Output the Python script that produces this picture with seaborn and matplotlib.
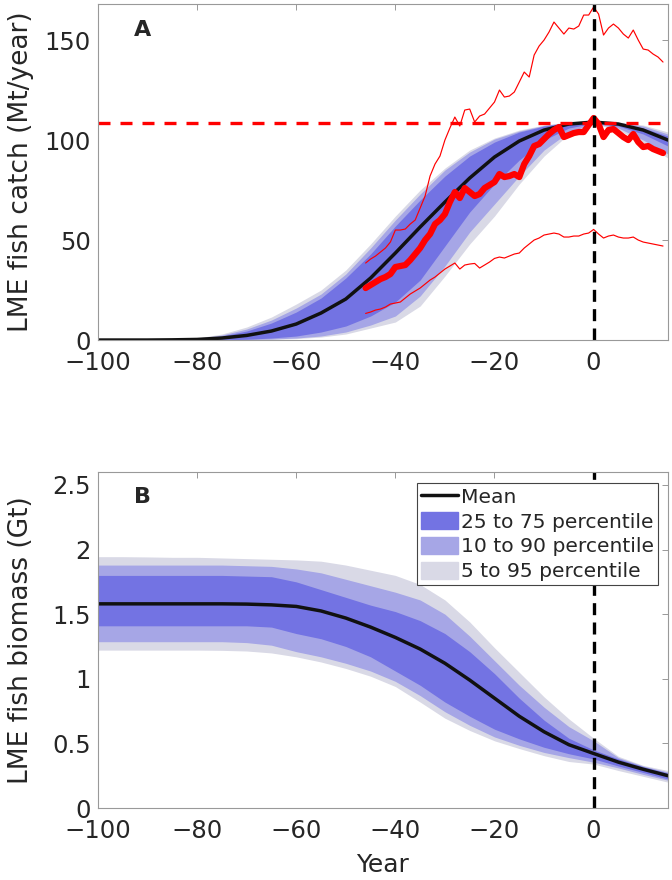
import numpy as np
import pandas as pd
import seaborn as sns
import matplotlib
matplotlib.use("Agg")
import matplotlib.pyplot as plt
from matplotlib.lines import Line2D
from matplotlib.patches import Patch

# model years (5-yr grid), relative to year of peak catch
years = [-100, -95, -90, -85, -80, -75, -70, -65, -60, -55, -50, -45,
         -40, -35, -30, -25, -20, -15, -10, -5, 0, 5, 10, 15]

# panel A: LME fish catch (Mt/year)
catch_mean = [0, 0, 0, 0.1, 0.3, 1, 2.3, 4.5, 8, 13.5, 20.5, 31,
              43.5, 56.5, 69, 81, 91.5, 99.5, 105, 108, 109, 108, 105, 100]
catch_p25 = [0, 0, 0, 0, 0, 0, 0.4, 1, 2, 4, 7, 12,
             19, 30, 47, 64, 78, 90, 100, 106, 108.5, 107, 103, 97]
catch_p75 = [0, 0, 0, 0, 0.6, 2, 4.5, 8.5, 14, 21, 31, 43,
             57, 70, 82, 92, 99, 104, 107, 108.7, 109, 108.5, 106, 102]
catch_p10 = [0, 0, 0, 0, 0, 0, 0.2, 0.5, 1, 2, 4, 7.5,
             12, 22, 37, 54, 68, 82, 95, 104, 108.3, 106, 100, 93]
catch_p90 = [0, 0, 0, 0, 0.8, 2.5, 5.5, 10, 16, 23, 33, 46,
             60, 73, 85, 94, 100.5, 104.5, 107.3, 108.8, 109, 108.8, 107, 103]
catch_p5 = [0, 0, 0, 0, 0, 0, 0, 0.3, 0.7, 1.5, 3, 6,
            9, 17, 32, 48, 62, 78, 92, 103, 108, 105, 98.5, 91]
catch_p95 = [0, 0, 0, 0, 1, 3, 6.5, 11.5, 18, 25, 35, 48,
             62, 75, 86, 95, 101, 105, 107.5, 109, 109.2, 109, 107.5, 104]

# observed catch (yearly)
obs_years = list(range(-46, 15))
obs_catch = [26, 27.5, 29, 30.5, 31.5, 33, 36.5, 37, 37.5, 40, 43, 46, 50, 53, 58, 60,
             63, 69, 74, 71, 76, 74, 72, 73, 76, 77.5, 79, 83, 81.5, 82, 83, 81.5,
             88, 92, 97, 98, 100.5, 103, 105, 106.5, 101.5, 102.5, 103.5, 104, 104, 107.5,
             111, 108, 101.5, 105, 105.5, 103.5, 101.5, 100, 103, 99, 96.5, 97, 95.5, 94.5, 93.5]
obs_high = [38.5, 40.5, 42, 44, 46, 49, 55, 55, 55.5, 58, 60, 66, 72, 82, 88, 92,
            100, 106, 111.5, 107, 115, 115.5, 109, 112, 113, 116, 119, 125, 121.5, 122, 124, 129,
            134, 131.5, 142.5, 147, 150, 154, 159, 156, 153, 156, 155.5, 157, 162.5, 162.5,
            166.5, 163, 152.5, 156, 158, 156, 153, 151, 155, 150, 145.5, 145, 143, 141.5, 139]
obs_low = [13.3, 14, 15, 15.5, 16.5, 18, 18.5, 19, 21, 23, 24.5, 26, 28, 30, 31.5, 33.5,
           35.5, 37, 38.5, 35.5, 37.5, 38, 38.3, 36, 37.5, 39, 40.8, 41.5, 41, 42, 43, 43.5,
           46, 48, 50, 51, 52.5, 53, 53.5, 53, 51.5, 51.5, 52, 52, 53, 53.5,
           55.3, 53, 51, 52, 52.5, 51.5, 51, 51, 51.5, 50, 49, 48.5, 48, 47.5, 47]
peak_catch = 108.7

# panel B: LME fish biomass (Gt)
bio_mean = [1.58, 1.58, 1.58, 1.58, 1.58, 1.58, 1.578, 1.572, 1.56, 1.525, 1.47, 1.40,
            1.32, 1.23, 1.12, 0.99, 0.85, 0.71, 0.59, 0.49, 0.422, 0.355, 0.30, 0.25]
bio_p25 = [1.41, 1.41, 1.41, 1.41, 1.41, 1.41, 1.41, 1.40, 1.35, 1.31, 1.25, 1.17,
           1.06, 0.95, 0.82, 0.71, 0.61, 0.535, 0.47, 0.42, 0.38, 0.325, 0.275, 0.225]
bio_p75 = [1.80, 1.80, 1.80, 1.80, 1.80, 1.80, 1.795, 1.79, 1.75, 1.69, 1.63, 1.57,
           1.52, 1.45, 1.35, 1.21, 1.04, 0.85, 0.68, 0.54, 0.45, 0.38, 0.32, 0.27]
bio_p10 = [1.287, 1.287, 1.287, 1.287, 1.287, 1.287, 1.28, 1.26, 1.21, 1.17, 1.12, 1.06,
           0.98, 0.87, 0.745, 0.64, 0.55, 0.485, 0.43, 0.39, 0.355, 0.31, 0.26, 0.215]
bio_p90 = [1.88, 1.88, 1.88, 1.88, 1.88, 1.88, 1.875, 1.87, 1.85, 1.82, 1.77, 1.72,
           1.67, 1.61, 1.50, 1.33, 1.14, 0.95, 0.78, 0.63, 0.52, 0.39, 0.325, 0.278]
bio_p5 = [1.222, 1.222, 1.222, 1.222, 1.222, 1.22, 1.215, 1.20, 1.17, 1.13, 1.08, 1.02,
          0.94, 0.82, 0.695, 0.60, 0.52, 0.46, 0.405, 0.36, 0.34, 0.29, 0.245, 0.20]
bio_p95 = [1.945, 1.945, 1.943, 1.94, 1.94, 1.935, 1.93, 1.925, 1.92, 1.91, 1.88, 1.84,
           1.80, 1.73, 1.61, 1.44, 1.24, 1.05, 0.86, 0.69, 0.54, 0.40, 0.33, 0.29]

c25 = (0.45, 0.45, 0.89)
c10 = (0.65, 0.65, 0.90)
c5 = (0.85, 0.85, 0.90)

sns.set_theme(style="white")
plt.rcParams['font.family'] = ['DejaVu Sans']

fig = plt.figure(figsize=(6.72, 8.8), dpi=100)
axA = fig.add_axes([0.1458, 0.6136, 0.8482, 0.3818])
axB = fig.add_axes([0.1458, 0.0818, 0.8482, 0.3818])


def draw_bands(ax, df):
    ax.fill_between(df["year"], df["p5"], df["p95"], color=c5, lw=0)
    ax.fill_between(df["year"], df["p10"], df["p90"], color=c10, lw=0)
    ax.fill_between(df["year"], df["p25"], df["p75"], color=c25, lw=0)
    sns.lineplot(data=df, x="year", y="mean", ax=ax, color="#111111", lw=2.5)


dfA = pd.DataFrame({"year": years, "mean": catch_mean, "p5": catch_p5, "p95": catch_p95,
                    "p10": catch_p10, "p90": catch_p90, "p25": catch_p25, "p75": catch_p75})
dfB = pd.DataFrame({"year": years, "mean": bio_mean, "p5": bio_p5, "p95": bio_p95,
                    "p10": bio_p10, "p90": bio_p90, "p25": bio_p25, "p75": bio_p75})
obs = pd.DataFrame({"year": obs_years, "catch": obs_catch, "high": obs_high, "low": obs_low})

# panel A
draw_bands(axA, dfA)
sns.lineplot(data=obs, x="year", y="high", ax=axA, color="red", lw=0.85)
sns.lineplot(data=obs, x="year", y="low", ax=axA, color="red", lw=0.85)
sns.lineplot(data=obs, x="year", y="catch", ax=axA, color="red", lw=4.5)
axA.axhline(peak_catch, color="red", lw=2.4, dashes=(3.6, 3.0))
axA.axvline(0, color="black", lw=2.4, dashes=(3.6, 2.2))
axA.set_ylim(0, 168)
axA.set_yticks([0, 50, 100, 150])
axA.set_ylabel("LME fish catch (Mt/year)")
axA.text(-91, 155, "A", fontsize=16, fontweight="bold", ha="center", va="center")

# panel B
draw_bands(axB, dfB)
axB.axvline(0, color="black", lw=2.4, dashes=(3.6, 2.2), zorder=2)
axB.set_ylim(0, 2.6)
axB.set_yticks([0, 0.5, 1, 1.5, 2, 2.5])
axB.set_yticklabels(["0", "0.5", "1", "1.5", "2", "2.5"])
axB.set_ylabel("LME fish biomass (Gt)")
axB.set_xlabel("Year")
axB.text(-91, 2.41, "B", fontsize=16, fontweight="bold", ha="center", va="center")

handles = [Line2D([], [], color="#111111", lw=2.5),
           Patch(color=c25), Patch(color=c10), Patch(color=c5)]
labels = ["Mean", "25 to 75 percentile", "10 to 90 percentile", "5 to 95 percentile"]
leg = axB.legend(handles, labels, loc="upper right", bbox_to_anchor=(0.983, 0.967),
                 fontsize=14.6, frameon=True, fancybox=False, framealpha=1, borderpad=0.2,
                 handlelength=1.85, handleheight=0.95, handletextpad=0.15,
                 labelspacing=0.25, borderaxespad=0)
leg.get_frame().set_edgecolor("#444444")
leg.get_frame().set_linewidth(0.8)
leg.set_zorder(5)

for ax in (axA, axB):
    ax.set_xlim(-100, 15)
    ax.set_xticks([-100, -80, -60, -40, -20, 0])
    ax.tick_params(direction="in", length=4, width=0.6, color="#888888",
                   top=True, right=True, labelsize=17.5, labelcolor="#262626")
    ax.tick_params(axis="x", pad=8)
    ax.tick_params(axis="y", pad=5)
    ax.yaxis.label.set_size(19)
    ax.xaxis.label.set_size(18)
    ax.yaxis.label.set_color("#262626")
    ax.xaxis.label.set_color("#262626")
    for s in ax.spines.values():
        s.set_color("#999999")
        s.set_linewidth(0.8)
    ax.set_facecolor("white")

axA.set_xlabel("")
axA.yaxis.set_label_coords(-0.113, 0.5)
axB.yaxis.set_label_coords(-0.113, 0.5)
axB.xaxis.set_label_coords(0.5, -0.135)

fig.savefig("out.png", dpi=100)
